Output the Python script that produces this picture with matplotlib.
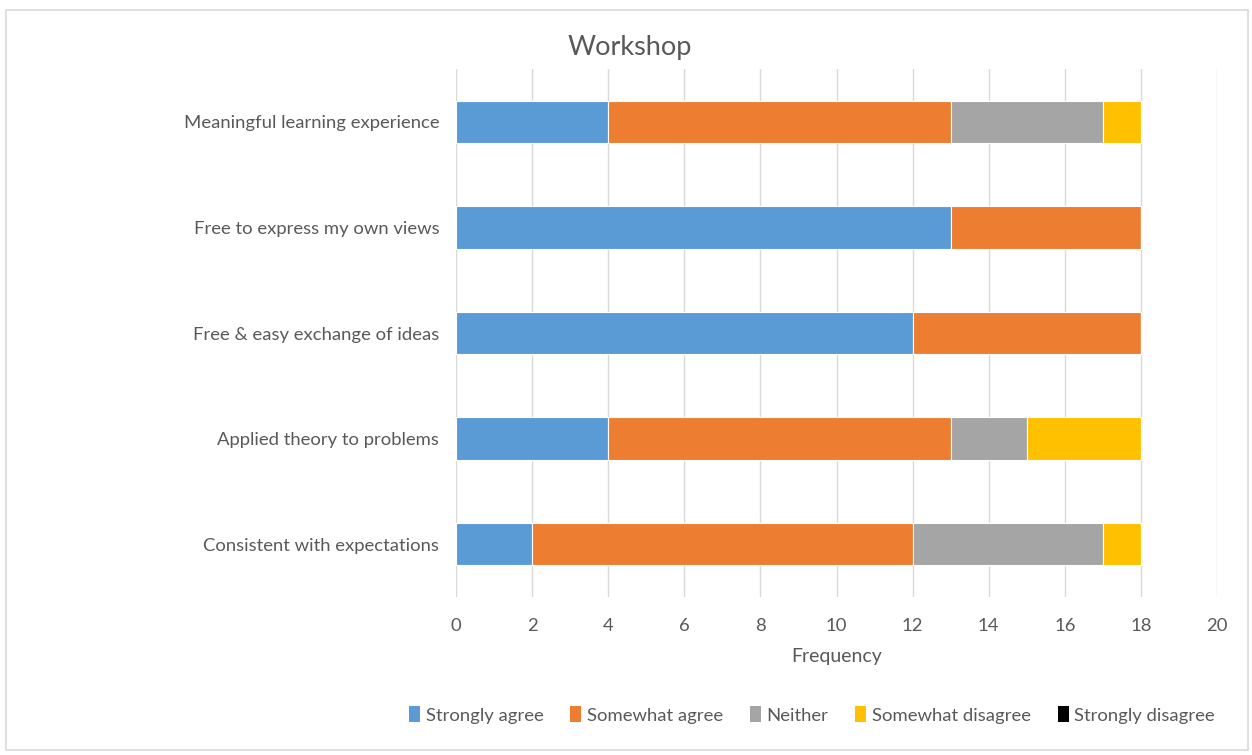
import numpy as np
import matplotlib.pyplot as plt
from matplotlib.patches import Rectangle, Patch

# Survey responses (frequency), categories listed top to bottom
categories = [
    "Meaningful learning experience",
    "Free to express my own views",
    "Free & easy exchange of ideas",
    "Applied theory to problems",
    "Consistent with expectations",
]
strongly_agree = [4, 13, 12, 4, 2]
somewhat_agree = [9, 5, 6, 9, 10]
neither = [4, 0, 0, 2, 5]
somewhat_disagree = [1, 0, 0, 3, 1]
strongly_disagree = [0, 0, 0, 0, 0]

series = [
    ("Strongly agree", strongly_agree, "#5B9BD5"),
    ("Somewhat agree", somewhat_agree, "#ED7D31"),
    ("Neither", neither, "#A5A5A5"),
    ("Somewhat disagree", somewhat_disagree, "#FFC000"),
    ("Strongly disagree", strongly_disagree, "#000000"),
]

plt.rcParams['font.family'] = ['Lato', 'DejaVu Sans']
text_color = "#595959"

fig = plt.figure(figsize=(12.52, 7.55), dpi=100)
ax = fig.add_axes([456 / 1252, 1 - 597 / 755, (1217 - 456) / 1252, (597 - 69) / 755])

# chart border
fig.patches.append(Rectangle((6 / 1252, 1 - 750 / 755), 1242 / 1252, 740 / 755,
                             transform=fig.transFigure, fill=False,
                             edgecolor="#D9D9D9", linewidth=1.2))

y = np.arange(len(categories))
left = np.zeros(len(categories))
for name, vals, color in series:
    vals = np.array(vals, dtype=float)
    ax.barh(y, vals, left=left, height=0.4, color=color, label=name,
            edgecolor="white", linewidth=0.8, zorder=3)
    left += vals

ax.set_xlim(0, 20)
ax.set_ylim(len(categories) - 0.5, -0.5)
ax.set_xticks(range(0, 21, 2))
ax.set_yticks(y)
ax.set_yticklabels(categories)
ax.tick_params(axis='both', length=0, labelsize=13.3, colors=text_color)
ax.tick_params(axis='y', pad=12)
ax.tick_params(axis='x', pad=15)
ax.grid(axis='x', color="#D9D9D9", linewidth=1, zorder=0)
for s in ax.spines.values():
    s.set_visible(False)

ax.set_xlabel("Frequency", fontsize=14, color=text_color, labelpad=10)
fig.text(0.503, 1 - 47 / 755, "Workshop", ha='center', va='center',
         fontsize=19.5, color=text_color)

handles = [Patch(facecolor=c, label=n) for n, _, c in series]
fig.legend(handles=handles, loc='center', bbox_to_anchor=(812 / 1252, 1 - 715 / 755),
           ncol=5, frameon=False, fontsize=13.3, handlelength=0.6, handleheight=0.9,
           handletextpad=0.3, columnspacing=1.45, labelcolor=text_color)

fig.savefig("out.png", dpi=100)
